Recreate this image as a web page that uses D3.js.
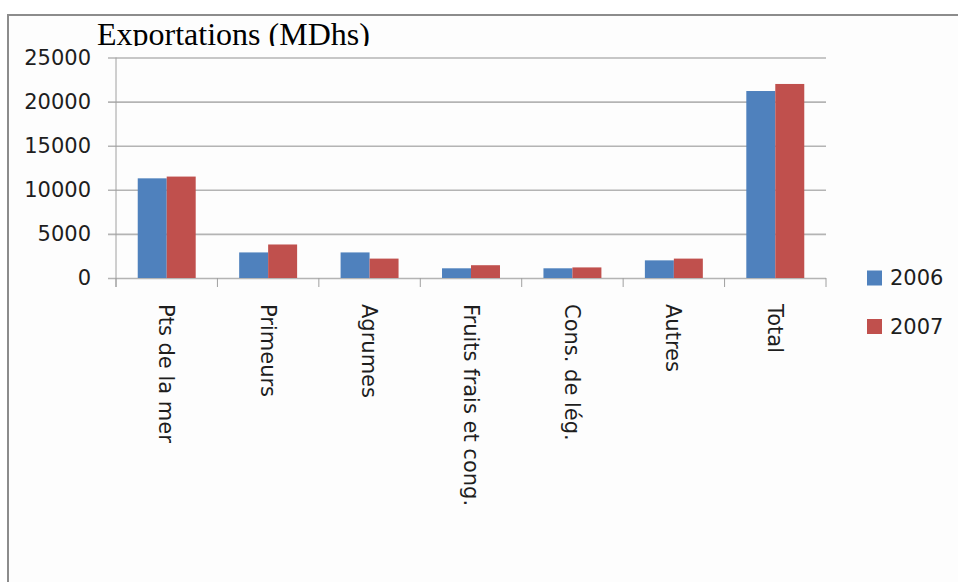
<!DOCTYPE html>
<html>
<head>
<meta charset="utf-8">
<script src="https://cdn.jsdelivr.net/npm/d3@7"></script>
<style>
  body { margin: 0; background: #fff; }
  svg { display: block; }
</style>
</head>
<body>
<svg id="chart" width="958" height="582"></svg>
<script>
var categories = ["Pts de la mer", "Primeurs", "Agrumes", "Fruits frais et cong.", "Cons. de lég.", "Autres", "Total"];
var series = ["2006", "2007"];
var values2006 = [11300, 2900, 2900, 1100, 1100, 2000, 21200];
var values2007 = [11500, 3800, 2200, 1450, 1200, 2200, 22000];
var yTicks = [0, 5000, 10000, 15000, 20000, 25000];
var colors = ["#4f81bd", "#c0504d"];

var svg = d3.select("#chart");
var font = "'DejaVu Sans', sans-serif";
var fs = 21;

// frame of the chart object (cut by the page edge)
svg.append("rect").attr("x", 8).attr("y", 15).attr("width", 1000).attr("height", 600)
    .attr("fill", "#fdfdfd").attr("stroke", "#8c8c8c").attr("stroke-width", 2);

var x0 = d3.scaleBand().domain(categories).range([116, 826]).padding(0);
var x1 = d3.scaleBand().domain(series).range([0, x0.bandwidth()]).paddingInner(0).paddingOuter(0.75);
var y = d3.scaleLinear().domain([0, 25000]).range([278, 57.5]);

// gridlines + labels
var yAxis = svg.append("g")
    .attr("transform", "translate(108,0)")
    .call(d3.axisLeft(y).tickValues(yTicks).tickFormat(d3.format("d")).tickSize(-718).tickPadding(17));
yAxis.select(".domain").remove();
yAxis.selectAll("line").attr("stroke", "#b4b4b4").attr("stroke-width", 1.6);
yAxis.selectAll("text").attr("font-family", font).attr("font-size", fs).attr("fill", "#1e1e1e");

// vertical axis line
svg.append("line").attr("x1", 116).attr("x2", 116).attr("y1", y(25000)).attr("y2", 287)
    .attr("stroke", "#a0a0a0").attr("stroke-width", 1);

// category boundary ticks
var bounds = categories.map(function(c){ return x0(c); }).concat([x0.range()[1]]);
svg.selectAll(".xtick").data(bounds).enter().append("line")
    .attr("class", "xtick")
    .attr("x1", function(d){ return d; }).attr("x2", function(d){ return d; })
    .attr("y1", y(0)).attr("y2", 287)
    .attr("stroke", "#a0a0a0").attr("stroke-width", 1);

// bars
var rows = categories.map(function(c, i){
    return { cat: c, vals: [values2006[i], values2007[i]] };
});
var groups = svg.selectAll(".grp").data(rows).enter().append("g")
    .attr("class", "grp")
    .attr("transform", function(d){ return "translate(" + x0(d.cat) + ",0)"; });
groups.selectAll("rect").data(function(d){
        return d.vals.map(function(v, j){ return { s: series[j], v: v, j: j }; });
    }).enter().append("rect")
    .attr("x", function(d){ return x1(d.s); })
    .attr("width", x1.bandwidth())
    .attr("y", function(d){ return y(d.v); })
    .attr("height", function(d){ return y(0) - y(d.v); })
    .attr("fill", function(d){ return colors[d.j]; });

// category labels, rotated
svg.selectAll(".clab").data(categories).enter().append("text")
    .attr("class", "clab")
    .attr("transform", function(d){
        return "translate(" + (x0(d) + x0.bandwidth() / 2) + ",304) rotate(90)";
    })
    .attr("dy", "0.35em")
    .attr("font-family", font).attr("font-size", fs).attr("fill", "#1e1e1e")
    .text(function(d){ return d; });

// legend
var legend = svg.selectAll(".leg").data(series).enter().append("g")
    .attr("class", "leg")
    .attr("transform", function(d, i){ return "translate(867," + (278 + i * 48.5) + ")"; });
legend.append("rect").attr("x", 0).attr("y", -7.5).attr("width", 15).attr("height", 15)
    .attr("fill", function(d, i){ return colors[i]; });
legend.append("text").attr("x", 23).attr("dy", "0.35em")
    .attr("font-family", font).attr("font-size", fs).attr("fill", "#1e1e1e")
    .text(function(d){ return d; });

// title, bottom clipped like the original
svg.append("clipPath").attr("id", "titleclip")
    .append("rect").attr("x", 0).attr("y", 0).attr("width", 958).attr("height", 46);
svg.append("text")
    .attr("clip-path", "url(#titleclip)")
    .attr("x", 97).attr("y", 44.5)
    .attr("font-family", "'Liberation Serif', 'Times New Roman', serif")
    .attr("font-size", 32).attr("fill", "#000")
    .text("Exportations (MDhs)");
</script>
</body>
</html>
